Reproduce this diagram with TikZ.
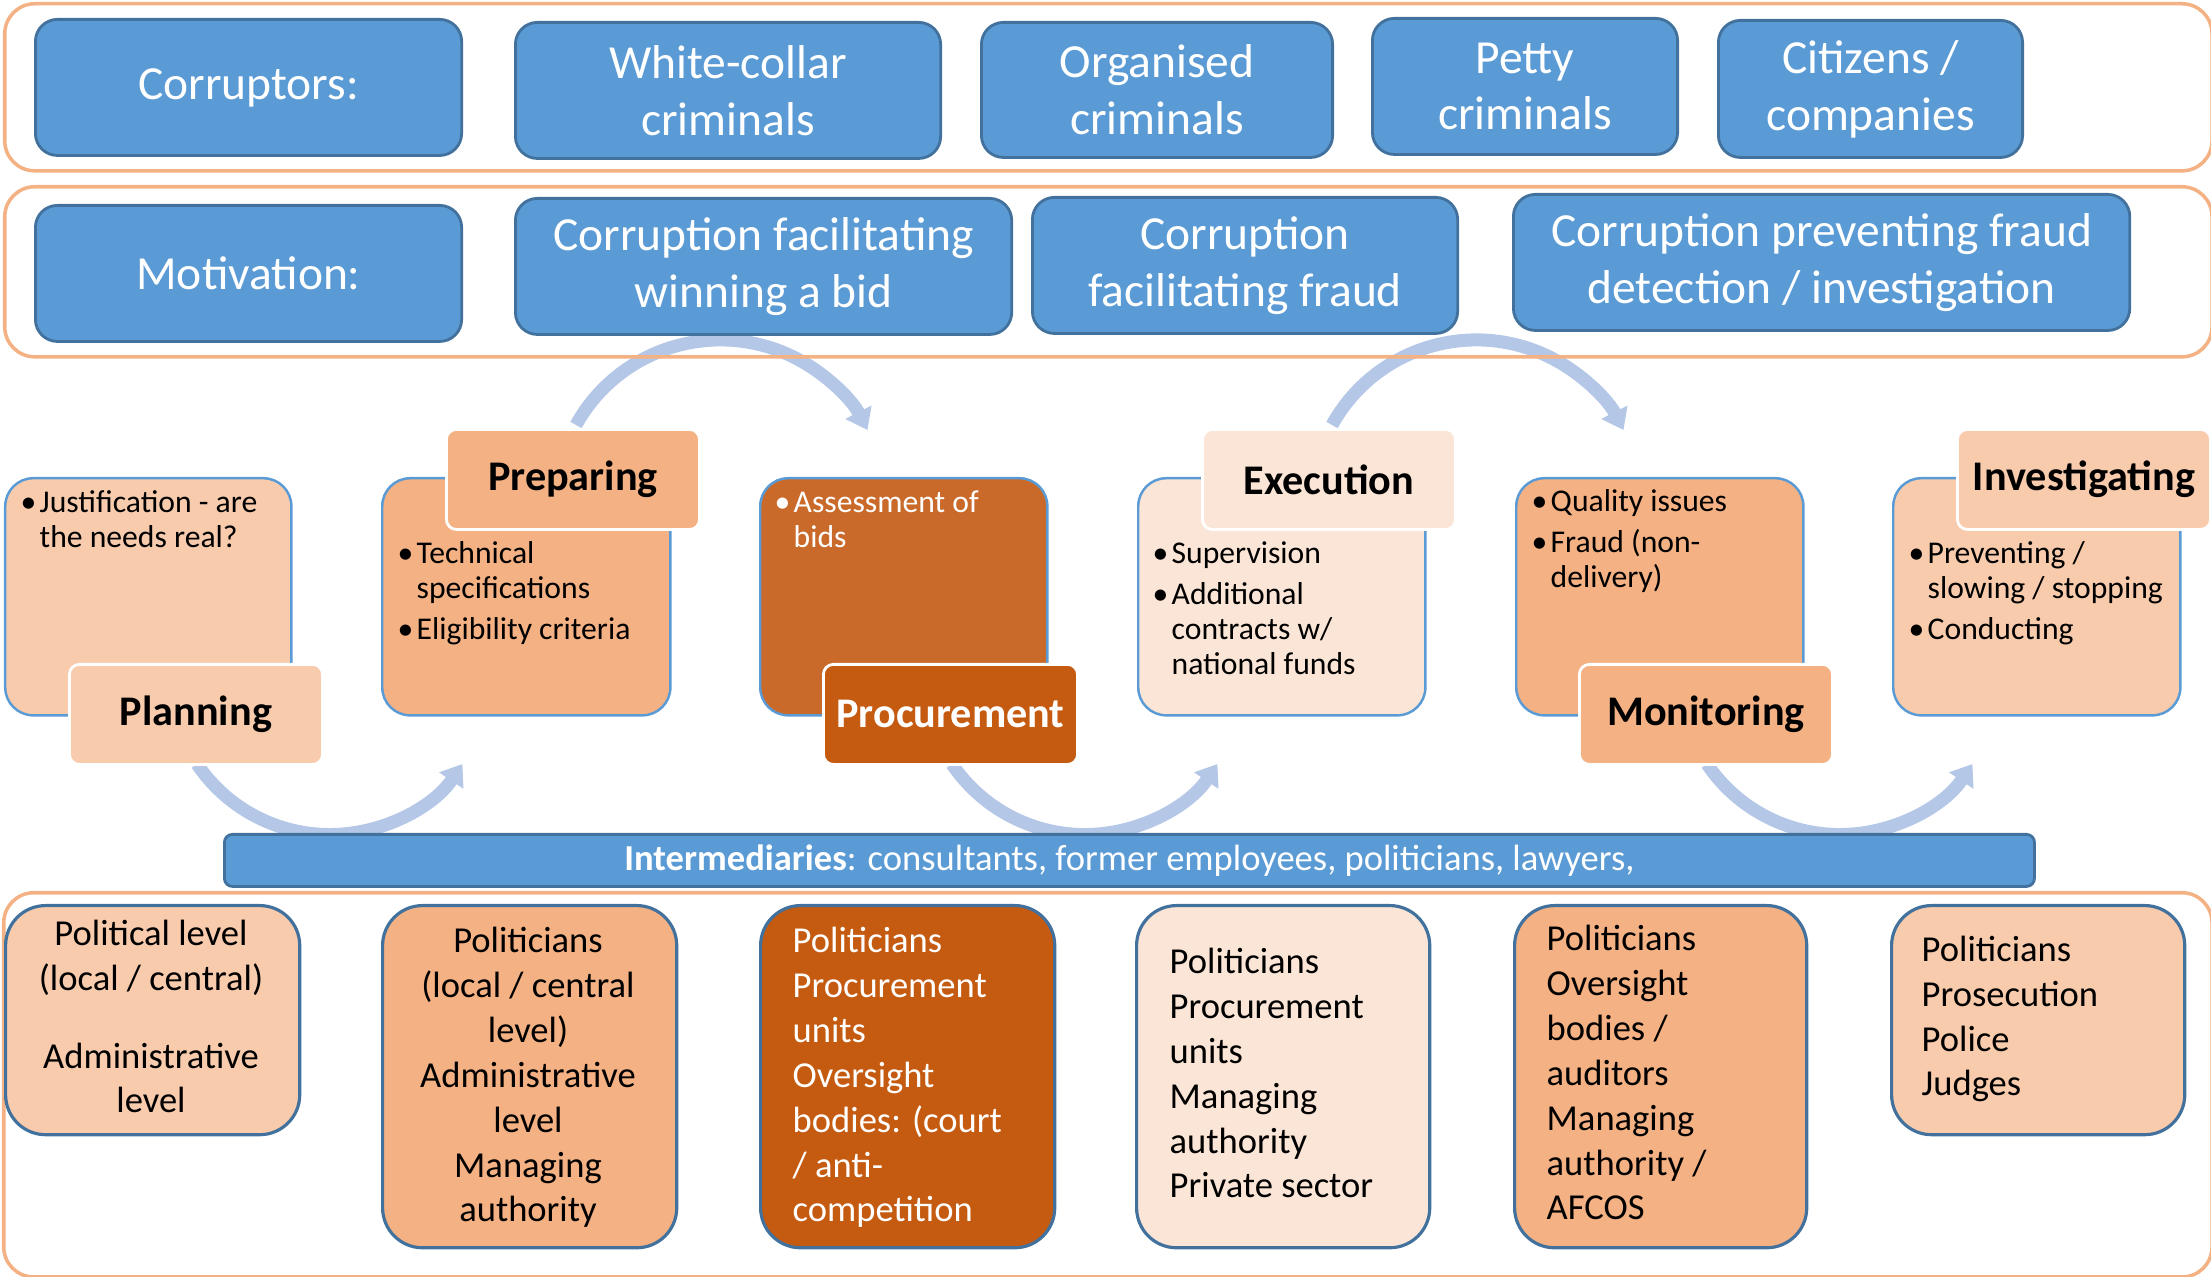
\documentclass[tikz,border=0pt]{standalone}
\usepackage{fontspec}
\setmainfont{Carlito}
\usetikzlibrary{arrows.meta}
\definecolor{blueF}{HTML}{5B9BD5}
\definecolor{blueD}{HTML}{41719C}
\definecolor{arrowC}{HTML}{B4C7E7}
\definecolor{bandC}{HTML}{F4B183}
\definecolor{pkA}{HTML}{F8CBAD}
\definecolor{pkB}{HTML}{F4B183}
\definecolor{pkC}{HTML}{FBE5D6}
\definecolor{orA}{HTML}{C55A11}
\definecolor{orB}{HTML}{C96A2A}
\newcommand\mkbox[7]{%
  \pgfmathsetmacro\bw{(#5-#3)/100}\pgfmathsetmacro\bh{(#6-#4)/100}%
  \node[#2,minimum width=\bw cm,minimum height=\bh cm,anchor=north west] (#1) at (#3,#4) {#7};}
\newcommand\bul{\makebox[0.19cm][l]{\textbullet}}
\newcommand\ind{\hspace*{0.19cm}}
\begin{document}
\begin{tikzpicture}[x=0.01cm,y=-0.01cm,
  band/.style={draw=bandC,line width=1pt,rounded corners=0.3cm,inner sep=0},
  topbox/.style={draw=blueD,fill=blueF,line width=0.8pt,rounded corners=0.22cm,text=white,
    font=\fontsize{13.5}{16.2}\selectfont,align=center,inner sep=0},
  phasebox/.style={draw=blueF,line width=0.7pt,rounded corners=0.28cm,inner sep=0},
  phaselabel/.style={draw=white,line width=0.8pt,rounded corners=0.1cm,
    font=\bfseries\fontsize{12}{14}\selectfont,inner sep=0},
  lowbox/.style={draw=blueD,line width=0.9pt,rounded corners=0.4cm,inner sep=0},
  lowtxt/.style={inner sep=0,font=\fontsize{10.4}{12.75}\selectfont},
  blist/.style={anchor=base west,inner sep=0,align=left,font=\fontsize{9}{10}\selectfont},
  cyc/.style={draw=arrowC,line width=3.7pt,-{Triangle[width=8pt,length=5.7pt]}}]
\useasboundingbox (0,0) rectangle (2211,1277);

% cycle arrows
\coordinate (b1) at (197,764);
\coordinate (b2) at (952,764);
\coordinate (b3) at (1707,764);
\coordinate (u1) at (576,425);
\coordinate (u2) at (1332,425);
\draw[cyc] (b1) arc[start angle=214,end angle=326,radius=1.6cm];
\draw[cyc] (b2) arc[start angle=214,end angle=326,radius=1.6cm];
\draw[cyc] (b3) arc[start angle=214,end angle=326,radius=1.6cm];
\draw[cyc] (u1) arc[start angle=151,end angle=27,radius=1.65cm];
\draw[cyc] (u2) arc[start angle=151,end angle=27,radius=1.65cm];

% bands
\mkbox{bandA}{band}{3}{2}{2209}{169}{}
\mkbox{bandB}{band}{3}{185}{2209}{355}{}
\mkbox{bandC}{band}{2}{891}{2209}{1275}{}

% corruptors
\mkbox{cor}{topbox}{34}{18}{460}{154}{Corruptors:}
\mkbox{wc}{topbox}{514}{21}{939}{157}{White-collar\\criminals}
\mkbox{oc}{topbox}{980}{21}{1331}{156}{Organised\\criminals}
\mkbox{pc}{topbox}{1371}{17}{1676}{153}{Petty\\criminals}
\mkbox{cc}{topbox}{1717}{19}{2021}{156}{Citizens /\\companies}

% motivation
\mkbox{mot}{topbox}{34}{204}{460}{340}{Motivation:}
\mkbox{m1}{topbox}{514}{197}{1010}{333}{Corruption facilitating\\winning a bid}
\mkbox{m2}{topbox}{1031}{196}{1456}{332}{Corruption\\facilitating fraud}
\mkbox{m3}{topbox}{1512}{193}{2128}{329}{Corruption preventing fraud\\detection / investigation}

% phases
\mkbox{plC}{phasebox,fill=pkA}{4}{477}{290}{714}{}
\mkbox{prC}{phasebox,fill=pkB}{381}{477}{669}{714}{}
\mkbox{poC}{phasebox,fill=orB}{759}{477}{1046}{714}{}
\mkbox{exC}{phasebox,fill=pkC}{1137}{477}{1424}{714}{}
\mkbox{moC}{phasebox,fill=pkB}{1515}{477}{1802}{714}{}
\mkbox{inC}{phasebox,fill=pkA}{1892}{477}{2179}{714}{}

% bullet lists, anchored at the baseline of their last line
\node[blist] (plT) at (20,548) {\bul Justification - are\\\ind the needs real?};
\node[blist] (prT) at (397,640) {\bul Technical\\\ind specifications\\[0.06cm]\bul Eligibility criteria};
\node[blist,text=white] (poT) at (774,548) {\bul Assessment of\\\ind bids};
\node[blist] (exT) at (1152,675) {\bul Supervision\\[0.06cm]\bul Additional\\\ind contracts w/\\\ind national funds};
\node[blist] (moT) at (1531,588) {\bul Quality issues\\[0.06cm]\bul Fraud (non-\\\ind delivery)};
\node[blist] (inT) at (1908,640) {\bul Preventing /\\\ind slowing / stopping\\[0.06cm]\bul Conducting};

\mkbox{plL}{phaselabel,fill=pkA}{68}{663}{321}{763}{Planning}
\mkbox{prL}{phaselabel,fill=pkB}{445}{428}{698}{528}{Preparing}
\mkbox{poL}{phaselabel,fill=orA,text=white}{822}{663}{1076}{763}{Procurement}
\mkbox{exL}{phaselabel,fill=pkC}{1201}{428}{1454}{528}{Execution}
\mkbox{moL}{phaselabel,fill=pkB}{1578}{663}{1831}{763}{Monitoring}
\mkbox{inL}{phaselabel,fill=pkA}{1956}{428}{2209}{528}{Investigating}

% intermediaries
\mkbox{inter}{draw=blueD,fill=blueF,line width=0.8pt,rounded corners=0.08cm,inner sep=0,text=white,font=\fontsize{10.4}{12.75}\selectfont}{223}{833}{2032}{885}{\textbf{Intermediaries}: consultants, former employees, politicians, lawyers,}

% lower boxes
\mkbox{l1}{lowbox,fill=pkA}{4}{904}{298}{1133}{}
\mkbox{l2}{lowbox,fill=pkB}{381}{904}{675}{1246}{}
\mkbox{l3}{lowbox,fill=orA}{759}{904}{1053}{1246}{}
\mkbox{l4}{lowbox,fill=pkC}{1135}{904}{1428}{1246}{}
\mkbox{l5}{lowbox,fill=pkB}{1513}{904}{1805}{1246}{}
\mkbox{l6}{lowbox,fill=pkA}{1890}{904}{2183}{1133}{}

% text blocks anchored at the baseline of their last line
\node[lowtxt,anchor=base,align=center] (l1T) at (151,1113) {Political level\\(local / central)\\[0.33cm]Administrative\\level};
\node[lowtxt,anchor=base,align=center] (l2T) at (528,1222) {Politicians\\(local / central\\level)\\Administrative\\level\\Managing\\authority};
\node[lowtxt,anchor=base west,align=left,text=white] (l3T) at (792,1222) {Politicians\\Procurement\\units\\Oversight\\bodies: (court\\/ anti-\\competition};
\node[lowtxt,anchor=base west,align=left] (l4T) at (1169,1198) {Politicians\\Procurement\\units\\Managing\\authority\\Private sector};
\node[lowtxt,anchor=base west,align=left] (l5T) at (1546,1220) {Politicians\\Oversight\\bodies /\\auditors\\Managing\\authority /\\AFCOS};
\node[lowtxt,anchor=base west,align=left] (l6T) at (1921,1096) {Politicians\\Prosecution\\Police\\Judges};
\end{tikzpicture}
\end{document}
